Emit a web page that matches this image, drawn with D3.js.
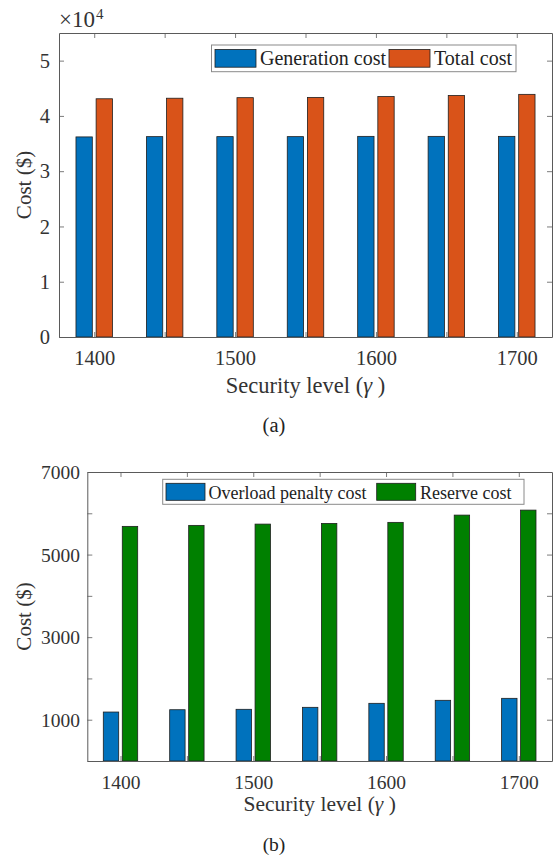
<!DOCTYPE html>
<html>
<head>
<meta charset="utf-8">
<script src="https://cdn.jsdelivr.net/npm/d3@7"></script>
<style>
  html, body { margin: 0; padding: 0; background: #fff; }
  svg, svg text { font-family: "Liberation Serif", "Times New Roman", serif; }
</style>
</head>
<body>
<svg id="chart" width="560" height="859"></svg>
<script>
// ---------- data ----------
const securityLevels = [1400, 1450, 1500, 1550, 1600, 1650, 1700];
const xTickLabels = [1400, 1500, 1600, 1700];

// Panel (a), in $
const generationCost = [36200, 36250, 36250, 36250, 36300, 36300, 36300];
const totalCost = [43100, 43200, 43300, 43350, 43500, 43700, 43900];
const yTicksA = [0, 10000, 20000, 30000, 40000, 50000];

// Panel (b), in $
const overloadPenaltyCost = [1186, 1242, 1252, 1300, 1397, 1470, 1518];
const reserveCost = [5683, 5707, 5738, 5755, 5780, 5956, 6077];
const yTicksB = [0, 1000, 2000, 3000, 4000, 5000, 6000, 7000];
const yTickLabelsB = [1000, 3000, 5000, 7000];

const seriesA = ["Generation cost", "Total cost"];
const seriesB = ["Overload penalty cost", "Reserve cost"];
const colorsA = ["#0072BD", "#D95319"];
const colorsB = ["#0072BD", "#008000"];

// ---------- drawing ----------
const svg = d3.select("#chart");
const TEXT = "#333333";
const AXIS = "#5a5a5a";
const FONT = "'Liberation Serif', 'Times New Roman', serif";

function panel(cfg) {
  const g = svg.append("g");
  const x = d3.scaleLinear().domain([1375, 1725]).range([cfg.left, cfg.right]);
  const y = d3.scaleLinear().domain(cfg.yDomain).range([cfg.bottom, cfg.top]);
  const step = x(1450) - x(1400);
  const barW = 0.232 * step;
  const off = 0.143 * step;

  // bars
  cfg.series.forEach((vals, si) => {
    const sign = si === 0 ? -1 : 1;
    g.append("g").selectAll("rect").data(vals).join("rect")
      .attr("x", (d, i) => x(securityLevels[i]) + sign * off - barW / 2)
      .attr("y", d => y(d))
      .attr("width", barW)
      .attr("height", d => y(0) - y(d))
      .attr("fill", cfg.colors[si])
      .attr("stroke", "#1f1f1f")
      .attr("stroke-width", 0.8);
  });

  const tl = 5;
  const axB = d3.axisBottom(x).tickValues(securityLevels).tickSizeInner(-tl).tickSizeOuter(0)
    .tickFormat(d => xTickLabels.includes(d) ? d : "");
  const gb = g.append("g").attr("transform", `translate(0,${cfg.bottom})`).call(axB);
  const axT = d3.axisTop(x).tickValues(securityLevels).tickSizeInner(-tl).tickSizeOuter(0).tickFormat("");
  const gt = g.append("g").attr("transform", `translate(0,${cfg.top})`).call(axT);
  const axL = d3.axisLeft(y).tickValues(cfg.yTicks).tickSizeInner(-tl).tickSizeOuter(0)
    .tickFormat(cfg.yFormat);
  const gl = g.append("g").attr("transform", `translate(${cfg.left},0)`).call(axL);
  const axR = d3.axisRight(y).tickValues(cfg.yTicks).tickSizeInner(-tl).tickSizeOuter(0).tickFormat("");
  const gr = g.append("g").attr("transform", `translate(${cfg.right},0)`).call(axR);

  [gb, gt, gl, gr].forEach(a => {
    a.attr("font-family", FONT);
    a.select(".domain").attr("stroke", AXIS).attr("stroke-width", 1);
    a.selectAll(".tick line").attr("stroke", AXIS).attr("stroke-width", 0.8);
    a.selectAll(".tick text").attr("fill", TEXT).style("font-family", FONT)
      .attr("font-size", cfg.fontSize);
  });
  gb.selectAll(".tick text").attr("dy", 0).attr("y", cfg.xTickBaseline - cfg.bottom);
  gl.selectAll(".tick text").attr("x", cfg.yTickX - cfg.left).attr("dy", "0.33em");

  // y label
  g.append("text")
    .attr("transform", `translate(${cfg.yLabelX},${(cfg.top + cfg.bottom) / 2}) rotate(-90)`)
    .attr("text-anchor", "middle").attr("fill", TEXT).attr("font-size", cfg.labelSize)
    .text("Cost ($)");

  // x label
  const xl = g.append("text")
    .attr("x", (cfg.left + cfg.right) / 2).attr("y", cfg.xLabelBaseline)
    .attr("text-anchor", "middle").attr("fill", TEXT).attr("font-size", cfg.xLabelSize);
  xl.append("tspan").text("Security level (");
  xl.append("tspan").attr("font-style", "italic").text("γ");
  xl.append("tspan").text(" )");

  // caption
  g.append("text").attr("x", cfg.captionX).attr("y", cfg.captionBaseline)
    .attr("text-anchor", "middle").attr("fill", "#222").attr("font-size", cfg.fontSize)
    .text(cfg.caption);

  // legend
  const L = cfg.legend;
  const lg = g.append("g");
  lg.append("rect").attr("x", L.x).attr("y", L.y).attr("width", L.w).attr("height", L.h)
    .attr("fill", "#fff").attr("stroke", "#8a8a8a").attr("stroke-width", 1);
  cfg.names.forEach((name, i) => {
    lg.append("rect").attr("x", L.sx[i]).attr("y", L.y + L.sPad)
      .attr("width", L.sw).attr("height", L.h - 2 * L.sPad)
      .attr("fill", cfg.colors[i]).attr("stroke", "#1f1f1f").attr("stroke-width", 0.8);
    lg.append("text").attr("x", L.tx[i]).attr("y", L.baseline)
      .attr("fill", "#222").attr("font-size", L.fontSize).text(name);
  });
}

panel({
  left: 59, right: 552, top: 33, bottom: 337,
  yDomain: [0, 55000], yTicks: yTicksA, yFormat: d => d / 10000,
  series: [generationCost, totalCost], colors: colorsA, names: seriesA,
  fontSize: 20.5, labelSize: 21, xLabelSize: 22.5,
  xTickBaseline: 365, yTickX: 50, yLabelX: 31,
  xLabelBaseline: 393, caption: "(a)", captionX: 274, captionBaseline: 432,
  legend: { x: 211.5, y: 45, w: 304.5, h: 26.7, sPad: 4.5, sw: 41,
            sx: [215, 389], tx: [260, 434], baseline: 65, fontSize: 20 }
});

// ×10^4 exponent label
const ex = svg.append("text").attr("x", 59).attr("y", 27).attr("fill", TEXT).attr("font-size", 23);
ex.append("tspan").text("×10");
ex.append("tspan").attr("font-size", 15).attr("dy", -8).attr("dx", 1).text("4");

panel({
  left: 87.3, right: 552, top: 472, bottom: 761,
  yDomain: [0, 7000], yTicks: yTicksB, yFormat: d => yTickLabelsB.includes(d) ? d : "",
  series: [overloadPenaltyCost, reserveCost], colors: colorsB, names: seriesB,
  fontSize: 19.5, labelSize: 21, xLabelSize: 21.5,
  xTickBaseline: 789, yTickX: 80, yLabelX: 31,
  xLabelBaseline: 811, caption: "(b)", captionX: 274, captionBaseline: 851,
  legend: { x: 162.7, y: 479.3, w: 361.3, h: 25, sPad: 4, sw: 39,
            sx: [166, 376.7], tx: [208.5, 420], baseline: 498.5, fontSize: 18 }
});
</script>
</body>
</html>
